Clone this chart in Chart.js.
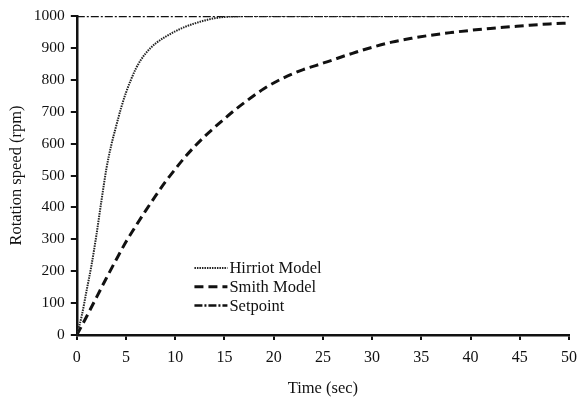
<!DOCTYPE html>
<html>
<head>
<meta charset="utf-8">
<script src="https://cdn.jsdelivr.net/npm/chart.js@4/dist/chart.umd.min.js"></script>
<style>
    html, body { margin: 0; padding: 0; background: #fff; }
    #wrap { width: 587px; height: 399px; }
</style>
</head>
<body>
<div id="wrap"><canvas id="speedChart"></canvas></div>
<script>
// Values
const hirriotTime  = [0, 0.5, 1, 1.5, 2, 2.5, 3, 3.5, 4, 4.5, 5, 5.5, 6, 6.5, 7, 7.5, 8, 9, 10, 11, 12, 13, 14, 15, 16, 18, 20, 25, 30, 35, 40, 45, 50];
const hirriotSpeed = [0, 60, 140, 220, 315, 420, 520, 595, 655, 712, 760, 800, 835, 862, 883, 900, 914, 935, 952, 966, 977, 986, 993, 997, 999, 1000, 1000, 1000, 1000, 1000, 1000, 1000, 1000];

const smithTime  = [0, 1, 2, 3, 4, 5, 6, 7, 8, 9, 10, 11, 12, 13, 14, 15, 16, 17, 18, 19, 20, 21, 22, 23, 24, 25, 26, 27, 28, 29, 30, 32, 34, 36, 38, 40, 42, 44, 46, 48, 50];
const smithSpeed = [0, 58, 118, 178, 236, 292, 342, 390, 436, 480, 520, 558, 592, 623, 651, 678, 704, 728, 751, 772, 790, 806, 820, 832, 842, 852, 862, 873, 883, 893, 902, 918, 930, 940, 948, 955, 961, 966, 971, 975, 978];

const setpointTime  = [0, 50];
const setpointSpeed = [1000, 1000];

const xTicks = [0, 5, 10, 15, 20, 25, 30, 35, 40, 45, 50];
const yTicks = [0, 100, 200, 300, 400, 500, 600, 700, 800, 900, 1000];

const seriesNames = ['Hirriot Model', 'Smith Model', 'Setpoint'];

const FONT = '"Liberation Serif", "DejaVu Serif", serif';

function toPoints(xs, ys) {
    return xs.map((x, i) => ({ x: x, y: ys[i] }));
}

// Legend drawn inside the plot area, lower middle, like the figure
const innerLegend = {
    id: 'innerLegend',
    afterDatasetsDraw(chart) {
        const { ctx, chartArea } = chart;
        const w = chartArea.right - chartArea.left;
        const h = chartArea.bottom - chartArea.top;
        const x0 = chartArea.left + w * 0.239;
        const lineLen = 33;
        const rowGap = 18.8;
        const y0 = chartArea.top + h * 0.79;

        ctx.save();
        ctx.font = '16.5px ' + FONT;
        ctx.fillStyle = '#111';
        ctx.textBaseline = 'middle';
        chart.data.datasets.forEach((ds, i) => {
            const y = y0 + i * rowGap;
            ctx.strokeStyle = ds.borderColor;
            ctx.lineWidth = ds.borderWidth;
            ctx.setLineDash(ds.borderDash || []);
            ctx.beginPath();
            ctx.moveTo(x0, y);
            ctx.lineTo(x0 + lineLen, y);
            ctx.stroke();
            ctx.setLineDash([]);
            ctx.fillText(ds.label, x0 + lineLen + 2, y + 1);
        });
        ctx.restore();
    }
};

const ctx = document.getElementById('speedChart');

new Chart(ctx, {
    type: 'line',
    data: {
        datasets: [
            {
                label: seriesNames[0],
                data: toPoints(hirriotTime, hirriotSpeed),
                borderColor: '#222',
                borderWidth: 2,
                borderDash: [1.5, 1],
                pointRadius: 0,
                cubicInterpolationMode: 'monotone'
            },
            {
                label: seriesNames[1],
                data: toPoints(smithTime, smithSpeed),
                borderColor: '#111',
                borderWidth: 3,
                borderDash: [9, 5],
                pointRadius: 0,
                cubicInterpolationMode: 'monotone'
            },
            {
                label: seriesNames[2],
                data: toPoints(setpointTime, setpointSpeed),
                borderColor: '#111',
                borderWidth: 2.5,
                borderDash: [8, 2, 2, 2],
                pointRadius: 0
            }
        ]
    },
    options: {
        responsive: true,
        maintainAspectRatio: false,
        animation: false,
        layout: {
            padding: { top: 16, right: 18, left: 7, bottom: 0 }
        },
        plugins: {
            legend: { display: false },
            tooltip: { enabled: false }
        },
        scales: {
            x: {
                type: 'linear',
                min: 0,
                max: 50,
                afterBuildTicks: (axis) => { axis.ticks = xTicks.map(v => ({ value: v })); },
                border: { color: '#111', width: 2.5 },
                grid: { drawOnChartArea: false, drawTicks: true, tickLength: 5, color: '#111', lineWidth: 2 },
                ticks: {
                    color: '#111',
                    font: { family: FONT, size: 16 },
                    padding: 8,
                    maxRotation: 0,
                    callback: (v) => String(v)
                },
                title: {
                    display: true,
                    text: 'Time (sec)',
                    color: '#111',
                    font: { family: FONT, size: 16.5 },
                    padding: { top: 4, bottom: 0 }
                }
            },
            y: {
                type: 'linear',
                min: 0,
                max: 1000,
                afterBuildTicks: (axis) => { axis.ticks = yTicks.map(v => ({ value: v })); },
                border: { color: '#111', width: 2.5 },
                grid: { drawOnChartArea: false, drawTicks: true, tickLength: 6, color: '#111', lineWidth: 2 },
                ticks: {
                    color: '#111',
                    font: { family: FONT, size: 15.5 },
                    padding: 6,
                    callback: (v) => String(v)
                },
                title: {
                    display: true,
                    text: 'Rotation speed (rpm)',
                    color: '#111',
                    font: { family: FONT, size: 16.5 },
                    padding: { top: 0, bottom: 1 }
                }
            }
        }
    },
    plugins: [innerLegend]
});
</script>
</body>
</html>
